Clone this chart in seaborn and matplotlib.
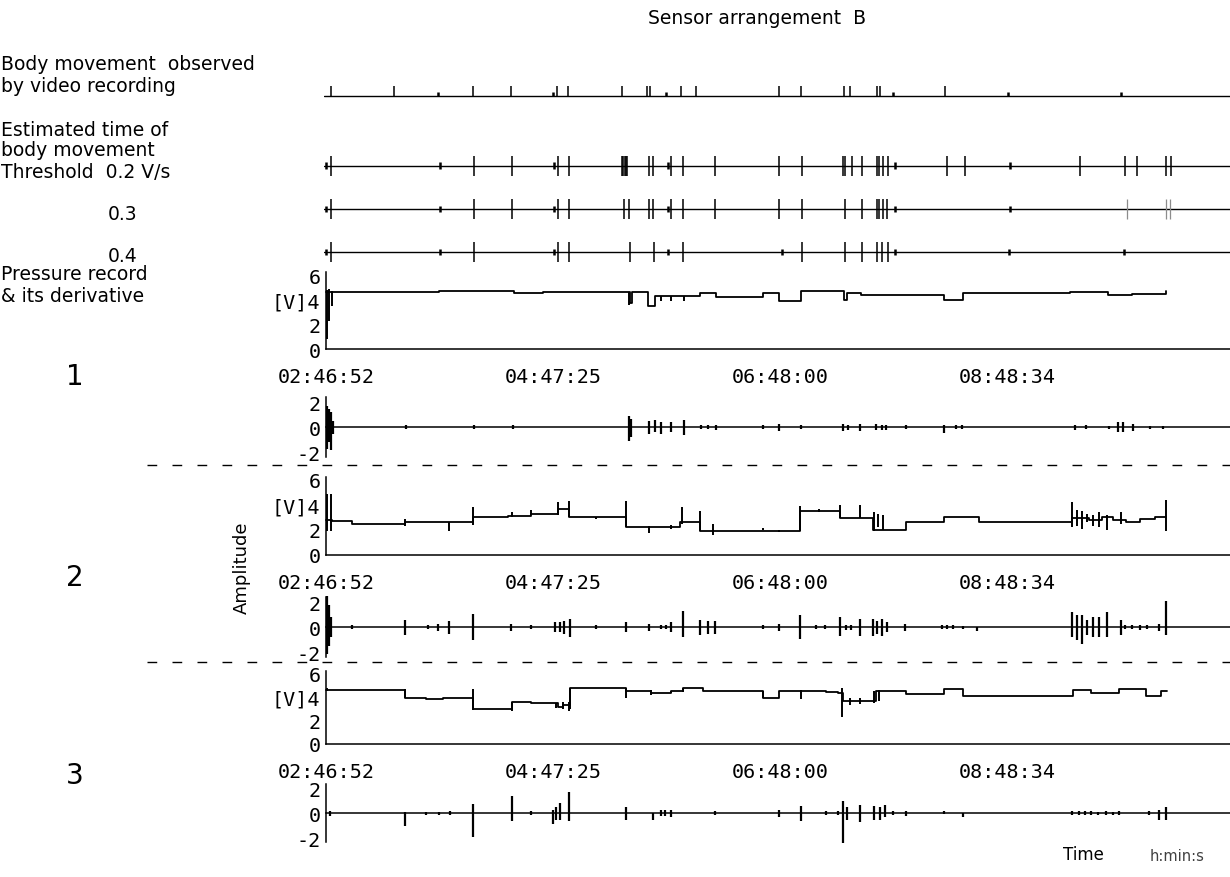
import seaborn as sns
import matplotlib.pyplot as plt
from matplotlib.lines import Line2D

# time axis: minutes after 02:46:52
tick_minutes = [0, 60.3, 120.6, 180.8, 241.1, 301.4, 361.7, 421.9]
tick_labels = ['02:46:52', '', '04:47:25', '', '06:48:00', '', '08:48:34', '']

# body movement seen on video
video_big = [2.7, 36.1, 77.8, 98.1, 122.7, 128.5, 157.4, 170.4, 172.3, 188.7, 196.7,
             240.8, 252.0, 274.8, 278.0, 292.5, 294.4, 328.8]
video_small = [59.6, 120.6, 180.7, 301.0, 362.0, 422.1]

# estimated movements for thresholds 0.2 / 0.3 / 0.4 V/s
thr02_big = [2.7, 78.7, 99.0, 123.4, 129.1, 157.2, 157.9, 158.6, 159.3, 160.0, 171.5, 173.6,
             183.4, 189.5, 206.5, 240.8, 252.7, 274.4, 275.7, 279.2, 284.5, 292.5, 293.5,
             295.7, 298.3, 329.6, 339.4, 400.4, 424.4, 430.6, 446.0, 448.6]
thr02_small = [0.0, 60.5, 121.1, 181.6, 301.9, 363.2]
thr03_big = [2.7, 78.7, 99.0, 123.4, 129.1, 158.2, 160.9, 171.5, 173.6, 183.4, 189.5, 206.5,
             240.8, 252.7, 275.7, 284.5, 292.5, 293.5, 295.7, 298.0]
thr03_faint = [425.1, 446.0, 448.1]
thr03_small = [0.0, 60.5, 121.1, 181.6, 301.9, 363.2]
thr04_big = [2.7, 78.7, 123.4, 129.1, 161.3, 174.2, 189.5, 252.7, 275.7, 284.5, 292.7,
             295.1, 298.3]
thr04_small = [0.0, 60.5, 121.1, 181.6, 242.1, 302.2, 362.9, 423.9]

# pressure records (step levels, V)
p1_t = [0, 60, 100, 115, 161.3, 162.5, 170.8, 174.5, 198.4, 207.0, 231.8, 240.8, 252.4,
        275.3, 276.5, 284.2, 328.4, 338.1, 395.0, 415.0, 428.0, 446.2]
p1_v = [4.62, 4.68, 4.55, 4.62, 3.7, 4.62, 3.5, 4.27, 4.55, 4.2, 4.54, 3.92, 4.68,
        3.98, 4.54, 4.38, 4.0, 4.54, 4.62, 4.35, 4.5, 4.72]
p1_spk_t = [0.5, 1.5, 3.0, 161.0, 178.0, 183.4, 190.0]
p1_spk_lo = [0.8, 2.3, 3.5, 3.6, 3.9, 3.9, 3.9]
p1_spk_hi = [4.8, 4.85, 4.7, 4.65, 4.3, 4.3, 4.3]

p2_t = [0, 3, 14, 41.9, 77.8, 96.6, 109.0, 123.3, 129.1, 159.5, 187.8, 198.4, 251.5,
        272.7, 290.4, 308.0, 328.4, 346.6, 396.1, 405.0, 412.0, 418.0, 425.0, 432.0,
        440.0, 446.0]
p2_v = [2.8, 2.73, 2.47, 2.6, 3.0, 3.13, 3.27, 3.7, 3.0, 2.2, 2.6, 1.94, 3.53, 2.92,
        2.02, 2.65, 3.0, 2.6, 2.95, 2.75, 3.05, 2.8, 2.6, 2.85, 3.0, 3.0]
p2_spk_t = [0.3, 2.5, 41.9, 65.3, 77.8, 98.6, 109.0, 123.3, 128.8, 143.6, 159.5, 171.5,
            183.4, 189.0, 198.4, 205.3, 231.8, 240.8, 251.5, 262.0, 272.7, 283.3, 291.0,
            293.0, 296.0, 396.0, 398.8, 401.5, 404.0, 407.0, 410.6, 414.5, 422.0, 446.0]
p2_spk_lo = [1.94, 1.94, 2.3, 1.9, 2.4, 3.0, 3.2, 3.2, 3.0, 2.9, 2.2, 1.75, 2.1, 2.5,
             1.94, 1.6, 2.0, 1.8, 1.94, 3.45, 2.92, 2.92, 1.94, 2.2, 2.0, 2.2, 2.3, 2.1,
             2.6, 2.3, 2.2, 2.0, 2.5, 1.94]
p2_spk_hi = [4.86, 4.86, 2.9, 2.6, 3.8, 3.45, 3.55, 4.2, 4.3, 3.05, 4.3, 2.3, 2.4, 3.8,
             3.5, 2.5, 2.15, 2.0, 3.9, 3.65, 3.95, 3.95, 3.4, 3.3, 3.2, 4.2, 3.6, 3.5,
             3.3, 3.2, 3.4, 3.2, 3.4, 4.4]

p3_t = [0, 41.9, 53.0, 62.0, 78.1, 99.0, 109.1, 123.3, 126.0, 129.4, 159.5, 172.8, 183.4,
        189.6, 200.2, 232.0, 240.8, 252.4, 265.6, 271.8, 274.4, 292.1, 308.0, 328.4,
        338.1, 396.4, 406.2, 421.2, 435.4, 443.3, 446.5]
p3_v = [4.64, 3.9, 3.85, 3.95, 3.0, 3.62, 3.48, 3.2, 3.3, 4.76, 4.5, 4.35, 4.5, 4.76,
        4.56, 3.9, 4.5, 4.56, 4.45, 4.4, 3.7, 4.56, 4.27, 4.7, 4.13, 4.64, 4.41, 4.7,
        4.1, 4.5, 4.56]
p3_spk_t = [0.5, 41.9, 78.1, 99.0, 122.0, 126.0, 128.8, 129.4, 159.5, 172.8, 183.4,
            189.6, 232.0, 252.4, 274.0, 278.0, 283.3, 291.2, 293.5]
p3_spk_lo = [4.5, 3.9, 2.9, 2.85, 3.1, 3.0, 2.8, 3.0, 3.9, 4.2, 4.35, 4.45, 3.9, 3.85,
             2.28, 3.3, 3.4, 3.5, 3.7]
p3_spk_hi = [4.8, 4.75, 4.75, 3.62, 3.5, 3.6, 3.6, 4.76, 4.76, 4.65, 4.55, 4.8, 4.56,
             4.6, 4.8, 3.9, 3.9, 4.5, 4.6]

# derivatives (spikes around zero, V/s)
d1_t = [0.5, 1.5, 2.5, 3.5, 42.4, 78.7, 99.2, 161.0, 161.8, 171.5, 174.5, 178.0, 183.4,
        190.0, 199.0, 203.0, 207.0, 231.8, 240.8, 252.4, 274.3, 277.0, 283.3, 292.3,
        295.0, 297.4, 308.2, 328.4, 334.7, 337.9, 397.5, 403.7, 415.9, 420.5, 423.0,
        428.5, 437.6, 444.5]
d1_lo = [-1.7, -1.2, -1.8, -0.5, -0.15, -0.15, -0.15, -1.1, -0.8, -0.5, -0.4, -0.5, -0.4,
         -0.6, -0.15, -0.15, -0.2, -0.15, -0.3, -0.15, -0.3, -0.2, -0.3, -0.25, -0.2,
         -0.2, -0.15, -0.45, -0.15, -0.15, -0.2, -0.15, -0.1, -0.4, -0.4, -0.3, -0.1, -0.1]
d1_hi = [1.7, 1.5, 1.2, 0.5, 0.15, 0.15, 0.15, 0.9, 0.7, 0.5, 0.6, 0.4, 0.4, 0.6, 0.15,
         0.15, 0.15, 0.15, 0.3, 0.2, 0.3, 0.2, 0.3, 0.25, 0.2, 0.2, 0.15, 0.15, 0.15,
         0.15, 0.2, 0.15, 0.1, 0.4, 0.4, 0.3, 0.1, 0.1]

d2_t = [0.5, 1.5, 2.5, 13.6, 41.9, 54.3, 59.6, 65.4, 77.8, 98.5, 109.1, 121.5, 124.0,
        126.5, 129.4, 143.6, 159.5, 171.5, 178.0, 180.6, 183.4, 189.6, 198.4, 203.0,
        206.4, 231.8, 240.8, 251.5, 260.3, 264.7, 272.7, 276.0, 279.0, 283.3, 290.4,
        292.5, 295.0, 297.9, 307.2, 327.3, 330.0, 333.0, 338.0, 345.9, 396.1, 398.8,
        401.5, 404.2, 407.0, 410.6, 414.5, 422.1, 424.0, 428.0, 432.0, 436.0, 442.4, 446.0]
d2_lo = [-2.1, -1.5, -0.8, -0.15, -0.6, -0.15, -0.3, -0.5, -1.05, -0.3, -0.15, -0.4, -0.4,
         -0.5, -0.8, -0.15, -0.4, -0.3, -0.15, -0.15, -0.4, -0.8, -0.6, -0.5, -0.5, -0.15,
         -0.3, -0.9, -0.15, -0.15, -0.7, -0.2, -0.2, -0.7, -0.7, -0.5, -0.7, -0.4, -0.3,
         -0.15, -0.15, -0.15, -0.15, -0.3, -0.8, -1.0, -1.3, -0.6, -0.8, -0.8, -0.8, -0.6,
         -0.15, -0.15, -0.2, -0.15, -0.3, -0.6]
d2_hi = [2.5, 1.8, 0.8, 0.15, 0.6, 0.15, 0.3, 0.5, 1.05, 0.3, 0.15, 0.4, 0.4, 0.5, 0.7,
         0.15, 0.4, 0.3, 0.15, 0.15, 0.4, 1.3, 0.6, 0.5, 0.5, 0.15, 0.3, 1.0, 0.15, 0.15,
         0.8, 0.2, 0.2, 0.7, 0.7, 0.5, 0.7, 0.4, 0.3, 0.15, 0.15, 0.15, 0.1, 0.05, 1.2,
         1.0, 1.0, 0.6, 0.8, 0.8, 1.2, 0.6, 0.15, 0.15, 0.2, 0.15, 0.3, 2.1]

d3_t = [2.1, 41.9, 53.0, 60.0, 65.8, 78.1, 99.0, 109.1, 120.4, 122.2, 124.1, 129.1, 159.5,
        173.6, 178.0, 180.0, 183.4, 206.4, 240.8, 252.4, 265.6, 271.8, 274.4, 276.5,
        283.3, 291.2, 294.0, 296.6, 301.0, 308.0, 328.4, 338.1, 396.1, 400.0, 403.0,
        406.2, 410.0, 414.0, 418.0, 421.2, 437.1, 442.4, 446.0]
d3_lo = [-0.2, -1.0, -0.1, -0.1, -0.15, -1.9, -0.6, -0.15, -0.85, -0.5, -0.5, -0.6, -0.5,
         -0.5, -0.25, -0.25, -0.3, -0.15, -0.3, -0.6, -0.15, -0.15, -2.4, -0.5, -0.7,
         -0.5, -0.5, -0.3, -0.15, -0.2, -0.05, -0.3, -0.15, -0.15, -0.15, -0.15, -0.1,
         -0.15, -0.1, -0.15, -0.15, -0.5, -0.5]
d3_hi = [0.2, 0.1, 0.1, 0.1, 0.15, 0.75, 1.4, 0.15, 0.3, 0.5, 0.8, 1.75, 0.5, 0.05, 0.25,
         0.25, 0.3, 0.15, 0.3, 0.6, 0.15, 0.15, 1.0, 0.5, 0.7, 0.6, 0.5, 0.7, 0.15, 0.2,
         0.2, 0.05, 0.15, 0.15, 0.15, 0.15, 0.1, 0.15, 0.1, 0.15, 0.15, 0.3, 0.5]

sns.set_style('white')
plt.rcParams['font.family'] = ['DejaVu Sans']
plt.rcParams['text.color'] = 'black'
MONO = 'DejaVu Sans Mono'

W, H = 1230, 878
X0 = 324.1  # pixel of t = -1
fig = plt.figure(figsize=(12.3, 8.78), dpi=100)


def add_ax(y0, scale, lo, hi):
    top = y0 - hi * scale
    bottom = y0 - lo * scale
    ax = fig.add_axes([X0 / W, 1 - bottom / H, (W - X0) / W, (bottom - top) / H])
    ax.set_xlim(-1, 480)
    ax.set_ylim(lo, hi)
    ax.patch.set_alpha(0)
    return ax


def event_row(y0, big, small, faint=(), up_only=False):
    ax = add_ax(y0, 10, -1.3, 1.3)
    ax.axhline(0, color='k', lw=1.0)
    lo = 0 if up_only else -1
    ax.vlines(big, lo, 1, colors='k', lw=1.1)
    ax.vlines(small, -0.0 if up_only else -0.3, 0.35, colors='k', lw=1.8)
    if len(faint):
        ax.vlines(faint, -1, 1, colors='0.55', lw=0.9)
    ax.axis('off')


event_row(96.7, video_big, video_small, up_only=True)
event_row(166.7, thr02_big, thr02_small)
event_row(210.0, thr03_big, thr03_small, faint=thr03_faint)
event_row(253.3, thr04_big, thr04_small)


def style_axes(ax, yticks, ylabels, bounds, xlabels):
    for s in ['top', 'right']:
        ax.spines[s].set_visible(False)
    ax.spines['left'].set_position(('data', 0))
    ax.spines['bottom'].set_position(('data', 0))
    ax.spines['left'].set_bounds(*bounds)
    ax.spines['bottom'].set_bounds(0, 480)
    for s in ['left', 'bottom']:
        ax.spines[s].set_linewidth(1.1)
        ax.spines[s].set_color('k')
    ax.set_xticks(tick_minutes)
    ax.set_yticks(yticks)
    ax.set_xticklabels(xlabels, fontfamily=MONO, fontsize=14.5)
    ax.set_yticklabels(ylabels, fontfamily=MONO, fontsize=14.5)
    ax.tick_params(axis='both', direction='inout', length=8, width=1.1, colors='k')
    ax.tick_params(axis='x', pad=9)
    ax.tick_params(axis='y', pad=0)
    ax.set_xlabel('')
    ax.set_ylabel('')


def pressure_panel(y0, scale, t, v, st, slo, shi):
    ax = add_ax(y0, scale, -0.3, 6.6)
    sns.lineplot(x=t, y=v, drawstyle='steps-post', estimator=None, sort=False,
                 color='k', lw=1.3, ax=ax)
    ax.vlines(st, slo, shi, colors='k', lw=1.4)
    style_axes(ax, [0, 2, 4, 6], ['0', '2', '[V]4', '6'], (0, 6.25), tick_labels)


def deriv_panel(y0, scale, t, lo, hi):
    ax = add_ax(y0, scale, -2.7, 2.7)
    ax.vlines(t, lo, hi, colors='k', lw=1.6)
    style_axes(ax, [-2, 0, 2], ['-2', '0', '2'], (-2.35, 2.4), [''] * len(tick_minutes))


pressure_panel(350.0, 12.33, p1_t, p1_v, p1_spk_t, p1_spk_lo, p1_spk_hi)
deriv_panel(428.3, 12.5, d1_t, d1_lo, d1_hi)
pressure_panel(556.0, 12.55, p2_t, p2_v, p2_spk_t, p2_spk_lo, p2_spk_hi)
deriv_panel(628.3, 12.5, d2_t, d2_lo, d2_hi)
pressure_panel(745.0, 11.67, p3_t, p3_v, p3_spk_t, p3_spk_lo, p3_spk_hi)
deriv_panel(814.3, 12.4, d3_t, d3_lo, d3_hi)

# dashed separators between sensors
for yp in [466, 663]:
    fig.add_artist(Line2D([147 / W, 1], [1 - yp / H] * 2, color='k', lw=1.0,
                          ls=(0, (7, 11))))


def ftext(x, y, s, **kw):
    fig.text(x / W, 1 - y / H, s, va='center', **kw)


FS = 13.5
ftext(757, 18, 'Sensor arrangement  B', ha='center', fontsize=FS)
ftext(1, 64, 'Body movement  observed', ha='left', fontsize=FS)
ftext(1, 86, 'by video recording', ha='left', fontsize=FS)
ftext(1, 130, 'Estimated time of', ha='left', fontsize=FS)
ftext(1, 151, 'body movement', ha='left', fontsize=FS)
ftext(1, 172, 'Threshold  0.2 V/s', ha='left', fontsize=FS)
ftext(108, 214, '0.3', ha='left', fontsize=FS)
ftext(108, 257, '0.4', ha='left', fontsize=FS)
ftext(1, 275, 'Pressure record', ha='left', fontsize=FS)
ftext(1, 296, '& its derivative', ha='left', fontsize=FS)
ftext(75, 377, '1', ha='center', fontsize=20)
ftext(75, 578, '2', ha='center', fontsize=20)
ftext(75, 776, '3', ha='center', fontsize=20)
ftext(242, 568, 'Amplitude', ha='center', rotation=90, fontsize=13)
ftext(1083, 855, 'Time', ha='center', fontsize=12)
ftext(1177, 857, 'h:min:s', ha='center', fontsize=10.5, color='0.25')

fig.savefig('out.png', dpi=100)
